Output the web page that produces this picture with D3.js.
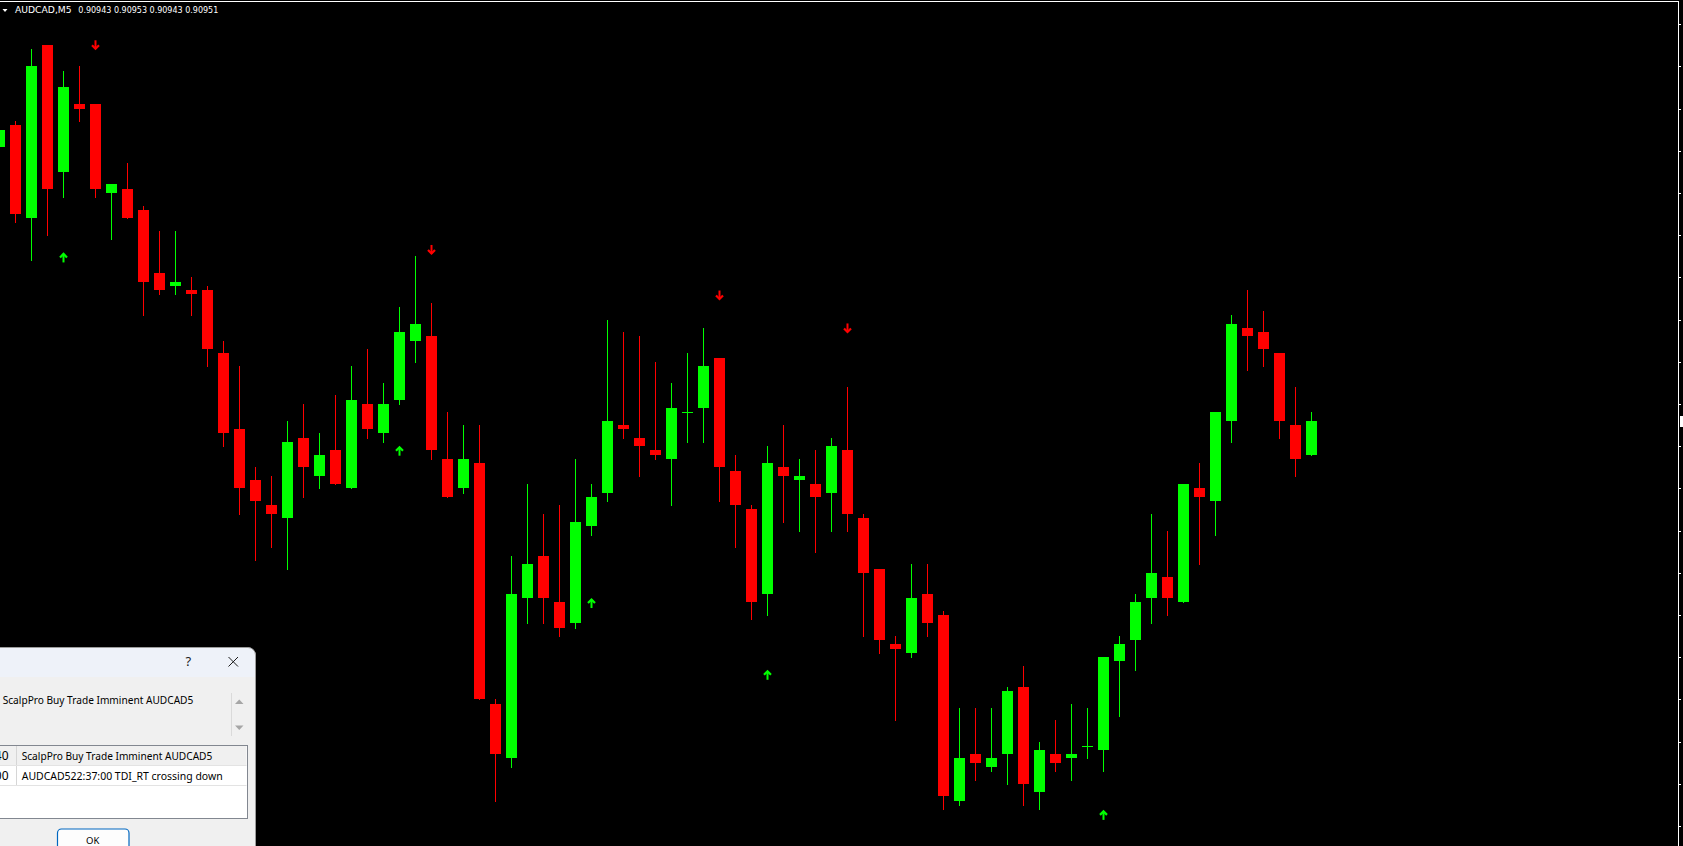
<!DOCTYPE html>
<html>
<head>
<meta charset="utf-8">
<script src="https://cdn.jsdelivr.net/npm/d3@7"></script>
<style>
  html, body { margin: 0; padding: 0; background: #000; overflow: hidden; }
  svg { display: block; }
</style>
</head>
<body>
<div id="chart"></div>
<script>
var symbolLabel = "AUDCAD,M5";
var lastBarLabel = "0.90943 0.90953 0.90943 0.90951";

// OHLC of the visible M5 bars, oldest first
var opens = [0.91016, 0.91021, 0.90999, 0.91040, 0.91010, 0.91026, 0.91026, 0.91005, 0.91006, 0.91001,
    0.90986, 0.90983, 0.90982, 0.90982, 0.90967, 0.90949, 0.90937, 0.90931, 0.90928, 0.90947,
    0.90938, 0.90944, 0.90935, 0.90955, 0.90948, 0.90956, 0.90970, 0.90971, 0.90942, 0.90935,
    0.90941, 0.90884, 0.90871, 0.90909, 0.90919, 0.90908, 0.90903, 0.90926, 0.90934, 0.90950,
    0.90947, 0.90944, 0.90942, 0.90953, 0.90954, 0.90966, 0.90939, 0.90930, 0.90910, 0.90940,
    0.90937, 0.90936, 0.90934, 0.90944, 0.90928, 0.90916, 0.90898, 0.90896, 0.90910, 0.90905,
    0.90861, 0.90872, 0.90869, 0.90872, 0.90888, 0.90863, 0.90872, 0.90871, 0.90874, 0.90873,
    0.90894, 0.90899, 0.90909, 0.90914, 0.90908, 0.90935, 0.90932, 0.90951, 0.90973, 0.90972,
    0.90967, 0.90950, 0.90943];
var highs = [0.91020, 0.91022, 0.91039, 0.91040, 0.91034, 0.91035, 0.91026, 0.91007, 0.91012, 0.91002,
    0.90996, 0.90996, 0.90985, 0.90983, 0.90970, 0.90964, 0.90940, 0.90938, 0.90951, 0.90955,
    0.90948, 0.90957, 0.90964, 0.90968, 0.90960, 0.90978, 0.90990, 0.90979, 0.90953, 0.90950,
    0.90950, 0.90885, 0.90919, 0.90936, 0.90929, 0.90931, 0.90942, 0.90936, 0.90975, 0.90972,
    0.90971, 0.90965, 0.90960, 0.90967, 0.90973, 0.90966, 0.90943, 0.90931, 0.90945, 0.90950,
    0.90942, 0.90944, 0.90947, 0.90959, 0.90929, 0.90916, 0.90900, 0.90917, 0.90917, 0.90906,
    0.90883, 0.90883, 0.90883, 0.90888, 0.90893, 0.90875, 0.90880, 0.90884, 0.90883, 0.90895,
    0.90900, 0.90910, 0.90929, 0.90925, 0.90936, 0.90941, 0.90953, 0.90976, 0.90982, 0.90977,
    0.90967, 0.90959, 0.90953];
var lows = [0.91016, 0.90998, 0.90989, 0.90995, 0.91004, 0.91022, 0.91004, 0.90994, 0.90999, 0.90976,
    0.90981, 0.90981, 0.90976, 0.90964, 0.90945, 0.90929, 0.90918, 0.90921, 0.90916, 0.90933,
    0.90935, 0.90936, 0.90935, 0.90947, 0.90946, 0.90955, 0.90965, 0.90942, 0.90933, 0.90934,
    0.90885, 0.90861, 0.90869, 0.90903, 0.90903, 0.90900, 0.90902, 0.90924, 0.90932, 0.90947,
    0.90938, 0.90942, 0.90931, 0.90946, 0.90946, 0.90932, 0.90921, 0.90904, 0.90905, 0.90927,
    0.90925, 0.90920, 0.90925, 0.90925, 0.90900, 0.90896, 0.90880, 0.90895, 0.90900, 0.90859,
    0.90860, 0.90866, 0.90868, 0.90865, 0.90860, 0.90859, 0.90868, 0.90866, 0.90871, 0.90868,
    0.90881, 0.90892, 0.90903, 0.90905, 0.90908, 0.90917, 0.90924, 0.90946, 0.90963, 0.90964,
    0.90947, 0.90938, 0.90943];
var closes = [0.91020, 0.91000, 0.91035, 0.91006, 0.91030, 0.91025, 0.91006, 0.91007, 0.90999, 0.90984,
    0.90982, 0.90984, 0.90981, 0.90968, 0.90948, 0.90935, 0.90932, 0.90929, 0.90946, 0.90940,
    0.90943, 0.90936, 0.90956, 0.90949, 0.90955, 0.90972, 0.90974, 0.90944, 0.90933, 0.90942,
    0.90885, 0.90872, 0.90910, 0.90917, 0.90909, 0.90902, 0.90927, 0.90933, 0.90951, 0.90949,
    0.90945, 0.90943, 0.90954, 0.90953, 0.90964, 0.90940, 0.90931, 0.90908, 0.90941, 0.90938,
    0.90938, 0.90933, 0.90945, 0.90929, 0.90915, 0.90899, 0.90897, 0.90909, 0.90903, 0.90862,
    0.90871, 0.90870, 0.90871, 0.90887, 0.90865, 0.90873, 0.90870, 0.90872, 0.90874, 0.90895,
    0.90898, 0.90908, 0.90915, 0.90909, 0.90936, 0.90933, 0.90953, 0.90974, 0.90971, 0.90968,
    0.90951, 0.90942, 0.90951];

// indicator arrows: bar index and price of the arrow tip
var sellArrowBars = [6, 27, 45, 53];
var sellArrowPrices = [0.910388, 0.909903, 0.909795, 0.909717];
var buyArrowBars = [4, 25, 37, 48, 69];
var buyArrowPrices = [0.909909, 0.909451, 0.909090, 0.908920, 0.908588];

var priceTicks = [0.91045, 0.91035, 0.91025, 0.91015, 0.91005, 0.90995, 0.90985, 0.90975, 0.90965, 0.90955,
    0.90945, 0.90935, 0.90925, 0.90915, 0.90905, 0.90895, 0.90885, 0.90875, 0.90865, 0.90855];
var currentPrice = 0.90951;

var alertMessage = "ScalpPro Buy Trade Imminent AUDCAD5";
var alertTimes = ["22:37:40", "22:37:00"];
var alertTexts = ["ScalpPro Buy Trade Imminent AUDCAD5", "AUDCAD522:37:00 TDI_RT crossing down"];

var width = 1683, height = 846;
var axisX = 1678;
var bullColor = "#00ff00", bearColor = "#ff0000";
var uiFont = "'Noto Sans', 'Open Sans', sans-serif";

var svg = d3.select("#chart").append("svg")
    .attr("width", width)
    .attr("height", height)
    .style("background", "#000");

var x = d3.scaleLinear().domain([0, opens.length - 1]).range([-1, 1311]);
var y = d3.scaleLinear().domain([0.90851, 0.91051]).range([842.8, -1.2]);

function fitText(sel, w) {
    var got = sel.node().getComputedTextLength();
    var fs = parseFloat(sel.attr("font-size"));
    sel.attr("font-size", (fs * w / got).toFixed(2));
}

var bars = d3.range(opens.length).map(function(i) {
    return {i: i, o: opens[i], h: highs[i], l: lows[i], c: closes[i]};
});

// candles
var candleG = svg.append("g").attr("shape-rendering", "crispEdges");
candleG.selectAll(".wick")
    .data(bars)
    .enter()
    .append("rect")
    .attr("class", "wick")
    .attr("x", d => x(d.i))
    .attr("y", d => Math.round(y(d.h)))
    .attr("width", 1)
    .attr("height", d => Math.round(y(d.l)) - Math.round(y(d.h)) + 1)
    .attr("fill", d => d.c >= d.o ? bullColor : bearColor);

candleG.selectAll(".body")
    .data(bars)
    .enter()
    .append("rect")
    .attr("class", "body")
    .attr("x", d => x(d.i) - 5)
    .attr("y", d => Math.round(y(Math.max(d.o, d.c))))
    .attr("width", 11)
    .attr("height", d => Math.max(1, Math.round(y(Math.min(d.o, d.c))) - Math.round(y(Math.max(d.o, d.c)))))
    .attr("fill", d => d.c >= d.o ? bullColor : bearColor);

// arrows
function drawArrows(idx, prices, dir, color) {
    var g = svg.append("g");
    idx.forEach(function(b, k) {
        var a = g.append("g")
            .attr("transform", `translate(${x(b) + 0.5}, ${y(prices[k])}) scale(1, ${dir})`);
        a.append("line")
            .attr("x1", 0).attr("y1", -10).attr("x2", 0).attr("y2", -1.5)
            .attr("stroke", color).attr("stroke-width", 2);
        a.append("polyline")
            .attr("points", "-3.5,-5 0,-1.5 3.5,-5")
            .attr("fill", "none")
            .attr("stroke", color)
            .attr("stroke-width", 2.2);
    });
}
drawArrows(sellArrowBars, sellArrowPrices, 1, bearColor);
drawArrows(buyArrowBars, buyArrowPrices, -1, bullColor);

// frame and price axis
svg.append("rect")
    .attr("x", 0).attr("y", 1)
    .attr("width", axisX).attr("height", 1)
    .attr("fill", "#fff");

var axisG = svg.append("g")
    .attr("transform", `translate(${axisX}, 0)`)
    .attr("shape-rendering", "crispEdges")
    .call(d3.axisRight(y).tickValues(priceTicks).tickSize(3).tickSizeOuter(0).tickFormat(""));
axisG.select(".domain").attr("stroke", "#fff").attr("d", "M0.5,1V846");
axisG.selectAll(".tick line").attr("stroke", "#fff");

svg.append("rect")
    .attr("x", axisX + 2)
    .attr("y", Math.round(y(currentPrice)) - 5)
    .attr("width", 8).attr("height", 11)
    .attr("fill", "#fff");

// chart caption
svg.append("path")
    .attr("d", "M2.5,9H7.5L5,12Z")
    .attr("fill", "#fff");
var cap1 = svg.append("text")
    .attr("x", 15).attr("y", 12.6)
    .attr("font-family", "Tahoma, 'DejaVu Sans', sans-serif")
    .attr("font-size", 10)
    .attr("fill", "#fff")
    .text(symbolLabel);
fitText(cap1, 56.7);
var cap2 = svg.append("text")
    .attr("x", 78.3).attr("y", 12.6)
    .attr("font-family", "Tahoma, 'DejaVu Sans', sans-serif")
    .attr("font-size", 10)
    .attr("fill", "#fff")
    .text(lastBarLabel);
fitText(cap2, 140);

// alert dialog
var dlg = svg.append("g");
dlg.append("path")
    .attr("d", "M-20,647.5H248A7.5,7.5 0 0 1 255.5,655V860H-20Z")
    .attr("fill", "#f0f0f0");
dlg.append("path")
    .attr("d", "M-20,647.5H248A7.5,7.5 0 0 1 255.5,655V677H-20Z")
    .attr("fill", "#eef2f9");
dlg.append("path")
    .attr("d", "M-20,647.5H248A7.5,7.5 0 0 1 255.5,655V860")
    .attr("fill", "none")
    .attr("stroke", "#9c9c9c");

dlg.append("text")
    .attr("x", 188.3).attr("y", 666)
    .attr("text-anchor", "middle")
    .attr("font-family", uiFont)
    .attr("font-size", 13)
    .attr("fill", "#1b1b1b")
    .text("?");
dlg.append("path")
    .attr("d", "M228.5,657L238,666.5M238,657L228.5,666.5")
    .attr("stroke", "#1b1b1b")
    .attr("stroke-width", 1);

var msg = dlg.append("text")
    .attr("x", 2.7).attr("y", 704)
    .attr("font-family", uiFont)
    .attr("font-size", 12)
    .attr("fill", "#000")
    .text(alertMessage);
fitText(msg, 190.6);

dlg.append("line")
    .attr("x1", 231.5).attr("y1", 693).attr("x2", 231.5).attr("y2", 736)
    .attr("stroke", "#dadada");
dlg.append("path")
    .attr("d", "M235,704H243.5L239.25,699.5Z")
    .attr("fill", "#a6a6a6");
dlg.append("path")
    .attr("d", "M235,725.5H243.5L239.25,730Z")
    .attr("fill", "#a6a6a6");

// list of alerts
var listTop = 745, rowH = 20;
var listG = dlg.append("g");
listG.append("rect")
    .attr("x", -5).attr("y", listTop + 0.5)
    .attr("width", 252.5).attr("height", 73)
    .attr("fill", "#fff")
    .attr("stroke", "#828790");
listG.append("rect")
    .attr("x", 0).attr("y", listTop + 1)
    .attr("width", 246.5).attr("height", rowH - 0.5)
    .attr("fill", "#f0f0f0");
alertTexts.forEach(function(t, r) {
    var top = listTop + r * rowH;
    listG.append("line")
        .attr("x1", 0).attr("x2", 246.5)
        .attr("y1", top + rowH + 0.5).attr("y2", top + rowH + 0.5)
        .attr("stroke", "#e3e3e3");
    listG.append("line")
        .attr("x1", 16.5).attr("x2", 16.5)
        .attr("y1", top + 1).attr("y2", top + rowH)
        .attr("stroke", "#d6d6d6");
    listG.append("text")
        .attr("x", 8.6).attr("y", top + 15)
        .attr("text-anchor", "end")
        .attr("font-family", uiFont)
        .attr("font-size", 12)
        .attr("fill", "#000")
        .text(alertTimes[r]);
    var rowText = listG.append("text")
        .attr("x", 21.7).attr("y", top + 15)
        .attr("font-family", uiFont)
        .attr("font-size", 12)
        .attr("fill", "#000")
        .text(t);
    fitText(rowText, r == 0 ? 190.6 : 201.3);
});

// OK button
dlg.append("rect")
    .attr("x", 57.5).attr("y", 829)
    .attr("width", 71.5).attr("height", 26)
    .attr("rx", 4)
    .attr("fill", "#fdfdfd")
    .attr("stroke", "#0067c0")
    .attr("stroke-width", 1.2);
var ok = dlg.append("text")
    .attr("x", 92.7).attr("y", 843.5)
    .attr("text-anchor", "middle")
    .attr("font-family", uiFont)
    .attr("font-size", 12)
    .attr("fill", "#000")
    .text("OK");
fitText(ok, 13.3);
</script>
</body>
</html>
